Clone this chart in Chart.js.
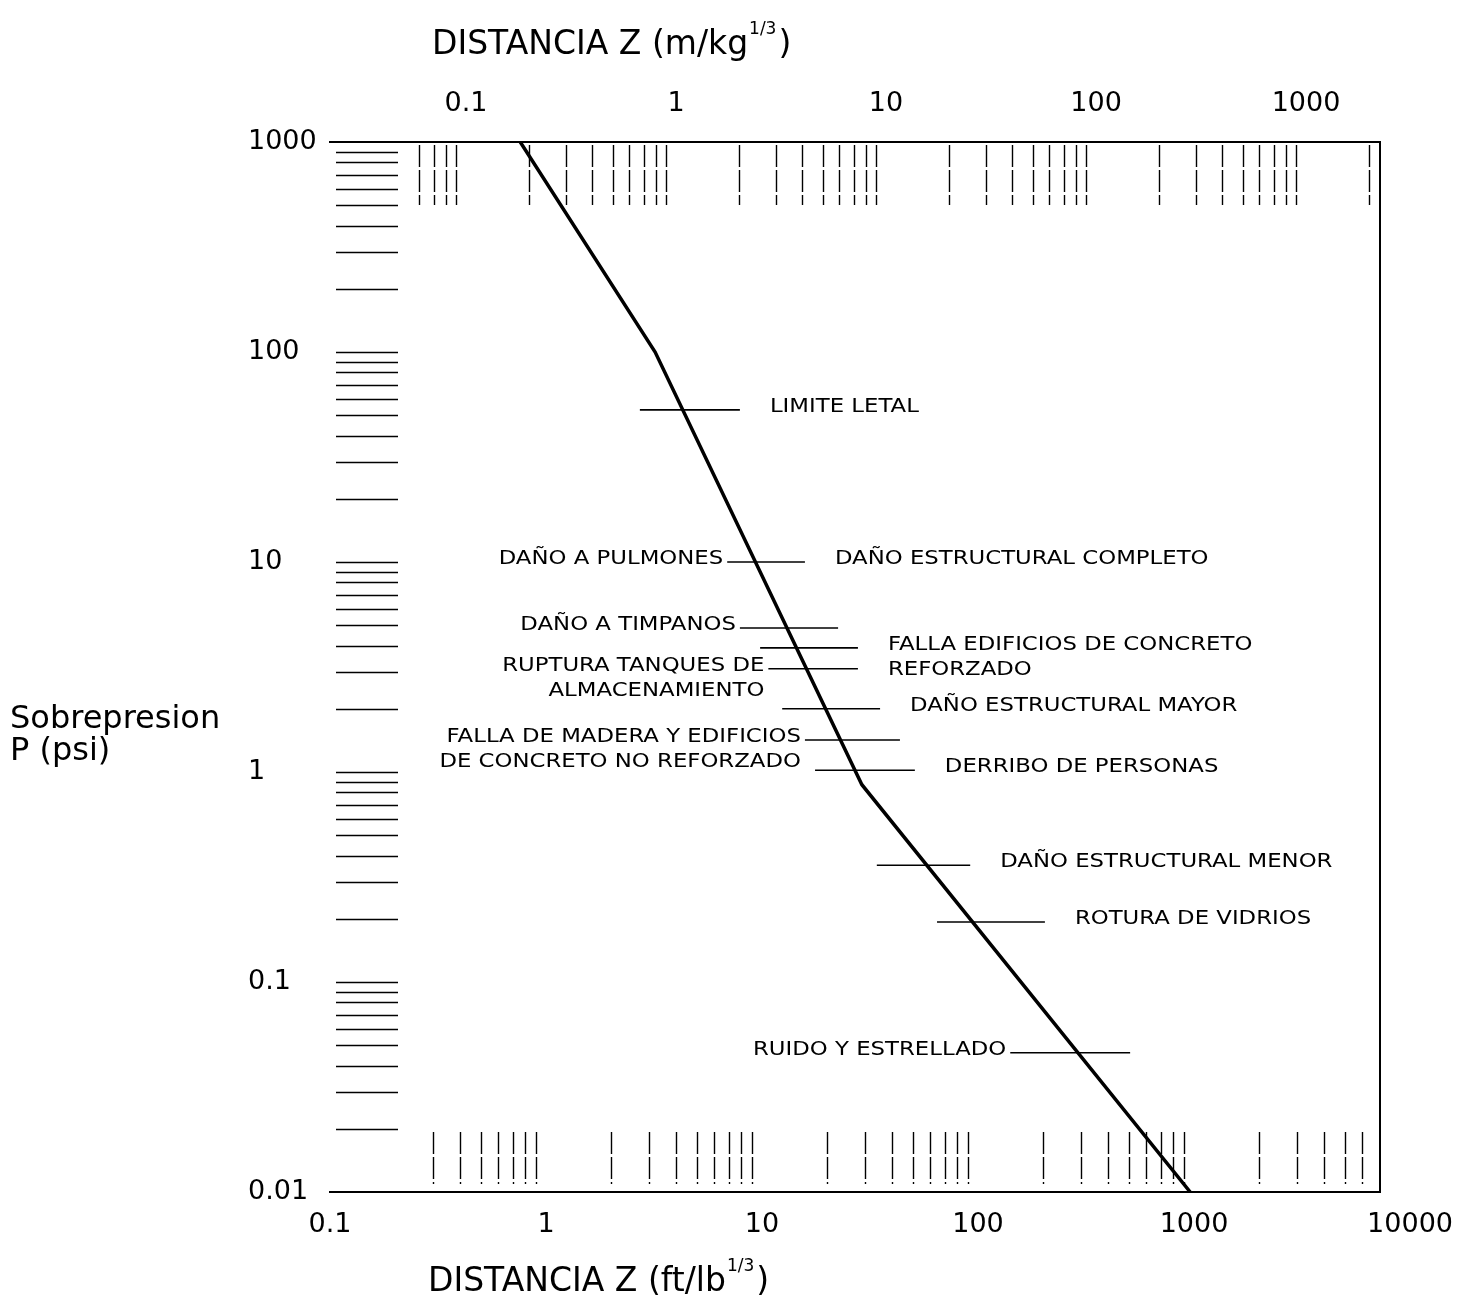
<!DOCTYPE html>
<html>
<head>
<meta charset="utf-8">
<script src="https://cdn.jsdelivr.net/npm/chart.js@4.4.1/dist/chart.umd.min.js"></script>
<style>
  html, body { margin: 0; padding: 0; background: #fff; }
</style>
</head>
<body>
<canvas id="blast" width="1459" height="1307"></canvas>
<script>
// Scaled distance Z (ft/lb^1/3) against side-on overpressure P (psi)
const curveZ = [0.76, 3.2, 29, 960];
const curveP = [1000, 100, 0.87, 0.01];

// Damage thresholds: overpressure, Z span of the marker, text on each side
const effectP     = [53, 10, 4.85, 3.9, 3.1, 2.0, 1.42, 1.02, 0.36, 0.193, 0.046];
const effectZFrom = [2.72, 6.9, 7.9, 9.8, 10.7, 12.4, 15.8, 17.6, 34, 64.6, 141];
const effectZTo   = [7.9, 15.8, 22.5, 27.8, 27.8, 35.2, 43.5, 51, 92, 204, 506];
const effectLeft  = ['', 'DAÑO A PULMONES', 'DAÑO A TIMPANOS', '', 'RUPTURA TANQUES DE\nALMACENAMIENTO', '',
  'FALLA DE MADERA Y EDIFICIOS\nDE CONCRETO NO REFORZADO', '', '', '', 'RUIDO Y ESTRELLADO'];
const effectRight = ['LIMITE LETAL', 'DAÑO ESTRUCTURAL COMPLETO', '', 'FALLA EDIFICIOS DE CONCRETO\nREFORZADO', '',
  'DAÑO ESTRUCTURAL MAYOR', '', 'DERRIBO DE PERSONAS', 'DAÑO ESTRUCTURAL MENOR', 'ROTURA DE VIDRIOS', ''];

// Axes
const zFtTicks = [0.1, 1, 10, 100, 1000, 10000];
const zMTicks = [0.1, 1, 10, 100, 1000];
const pTicks = [0.01, 0.1, 1, 10, 100, 1000];
const zFtRange = [0.1, 7260];
const zMRange = [0.0225, 2250];
const pRange = [0.01, 1000];
const minorSteps = [2, 3, 4, 5, 6, 7, 8, 9];

const FONT = 'DejaVu Sans';

const datasets = [{
  data: curveZ.map((z, i) => ({ x: z, y: curveP[i] })),
  borderColor: '#000',
  borderWidth: 3.5,
  pointRadius: 0,
}];
effectP.forEach((p, i) => {
  datasets.push({
    data: [{ x: effectZFrom[i], y: p }, { x: effectZTo[i], y: p }],
    borderColor: '#000',
    borderWidth: 1.6,
    pointRadius: 0,
  });
});

function fixedTicks(values) {
  return (scale) => { scale.ticks = values.map(v => ({ value: v })); };
}

// log-paper marks: short rules at every minor step of each decade
function decadeValues(min, max, steps) {
  const out = [];
  for (let e = Math.floor(Math.log10(min)); e <= Math.ceil(Math.log10(max)); e++) {
    steps.forEach(k => {
      const v = k * Math.pow(10, e);
      if (v > min * 1.0001 && v < max * 0.9999) out.push(v);
    });
  }
  return out;
}

const paperMarks = {
  id: 'paperMarks',
  beforeDatasetsDraw(chart) {
    const { ctx, chartArea: a, scales } = chart;
    ctx.save();
    ctx.strokeStyle = '#000';
    ctx.lineWidth = 1.6;
    // horizontal rules on the left for P
    decadeValues(pRange[0], pRange[1], [1, ...minorSteps]).forEach(v => {
      const py = Math.round(scales.y.getPixelForValue(v)) + 0.5;
      ctx.beginPath();
      ctx.moveTo(a.left + 6, py);
      ctx.lineTo(a.left + 68, py);
      ctx.stroke();
    });
    ctx.lineWidth = 1.4;
    ctx.setLineDash([22, 3]);
    // vertical rules along the bottom (ft/lb) and top (m/kg)
    decadeValues(zFtRange[0], zFtRange[1], minorSteps).forEach(v => {
      const px = Math.round(scales.x.getPixelForValue(v)) + 0.5;
      if (px < a.left + 85 || px > a.right - 3) return;
      ctx.beginPath();
      ctx.moveTo(px, a.bottom - 60);
      ctx.lineTo(px, a.bottom - 8);
      ctx.stroke();
    });
    decadeValues(zMRange[0], zMRange[1], minorSteps).forEach(v => {
      const px = Math.round(scales.x2.getPixelForValue(v)) + 0.5;
      if (px < a.left + 85 || px > a.right - 3) return;
      ctx.beginPath();
      ctx.moveTo(px, a.top + 3);
      ctx.lineTo(px, a.top + 63);
      ctx.stroke();
    });
    ctx.restore();
  },
};

function drawStretched(ctx, text, x, y, align) {
  const lines = text.split('\n');
  ctx.save();
  ctx.translate(x, y);
  ctx.scale(1.2, 1);
  ctx.textAlign = align;
  lines.forEach((line, k) => ctx.fillText(line, 0, k * 25));
  ctx.restore();
}

function drawUnitTitle(ctx, x, y, main, sup, tail) {
  ctx.textAlign = 'left';
  ctx.textBaseline = 'middle';
  ctx.font = `33px "${FONT}"`;
  ctx.fillText(main, x, y);
  const w = ctx.measureText(main).width;
  ctx.font = `17px "${FONT}"`;
  ctx.fillText(sup, x + w + 1, y - 15);
  const ws = ctx.measureText(sup).width;
  ctx.font = `33px "${FONT}"`;
  ctx.fillText(tail, x + w + ws + 3, y);
}

const textLayer = {
  id: 'textLayer',
  afterDraw(chart) {
    const { ctx, chartArea: a, scales } = chart;
    ctx.save();
    ctx.fillStyle = '#000';
    ctx.textBaseline = 'middle';
    ctx.font = `19px "${FONT}"`;
    effectP.forEach((p, i) => {
      const py = scales.y.getPixelForValue(p) - 3;
      if (effectLeft[i]) drawStretched(ctx, effectLeft[i], scales.x.getPixelForValue(effectZFrom[i]) - 4, py, 'right');
      if (effectRight[i]) drawStretched(ctx, effectRight[i], scales.x.getPixelForValue(effectZTo[i]) + 30, py, 'left');
    });

    drawUnitTitle(ctx, a.left + 102, 45, 'DISTANCIA Z (m/kg', '1/3', ')');
    drawUnitTitle(ctx, a.left + 98, chart.height - 25, 'DISTANCIA Z (ft/lb', '1/3', ')');

    ctx.font = `32px "${FONT}"`;
    ctx.textAlign = 'left';
    ctx.fillText('Sobrepresion', 10, 720);
    ctx.fillText('P (psi)', 10, 752);
    ctx.restore();
  },
};

const tickFont = { family: FONT, size: 27 };
const axisLine = { display: true, color: '#000', width: 2 };
const noGrid = { display: false, drawTicks: false };

new Chart(document.getElementById('blast'), {
  type: 'line',
  data: { datasets },
  plugins: [paperMarks, textLayer],
  options: {
    responsive: false,
    animation: false,
    devicePixelRatio: 1,
    layout: { padding: { left: 248, right: 79, top: 0, bottom: 0 } },
    plugins: { legend: { display: false }, tooltip: { enabled: false } },
    scales: {
      x: {
        type: 'logarithmic',
        position: 'bottom',
        bounds: 'data',
        min: zFtRange[0],
        max: zFtRange[1],
        grid: noGrid,
        border: axisLine,
        ticks: { autoSkip: false, maxRotation: 0, padding: 17, color: '#000', font: tickFont, callback: v => String(v) },
        afterBuildTicks: fixedTicks(zFtTicks),
        afterFit: s => { s.height = 115; s.paddingLeft = 0; s.paddingRight = 0; },
      },
      x2: {
        type: 'logarithmic',
        position: 'top',
        bounds: 'data',
        min: zMRange[0],
        max: zMRange[1],
        grid: noGrid,
        border: axisLine,
        ticks: { autoSkip: false, maxRotation: 0, padding: 22, color: '#000', font: tickFont, callback: v => String(v) },
        afterBuildTicks: fixedTicks(zMTicks),
        afterFit: s => { s.height = 142; s.paddingLeft = 0; s.paddingRight = 0; },
      },
      y: {
        type: 'logarithmic',
        position: 'left',
        bounds: 'data',
        min: pRange[0],
        max: pRange[1],
        grid: noGrid,
        border: { display: false },
        ticks: { autoSkip: false, crossAlign: 'far', color: '#000', font: tickFont, callback: v => String(v) },
        afterBuildTicks: fixedTicks(pTicks),
        afterFit: s => { s.width = 82; s.paddingTop = 0; s.paddingBottom = 0; },
      },
      y2: {
        type: 'linear',
        position: 'right',
        grid: noGrid,
        border: axisLine,
        ticks: { display: false },
        afterFit: s => { s.width = 0; },
      },
    },
  },
});
</script>
</body>
</html>
